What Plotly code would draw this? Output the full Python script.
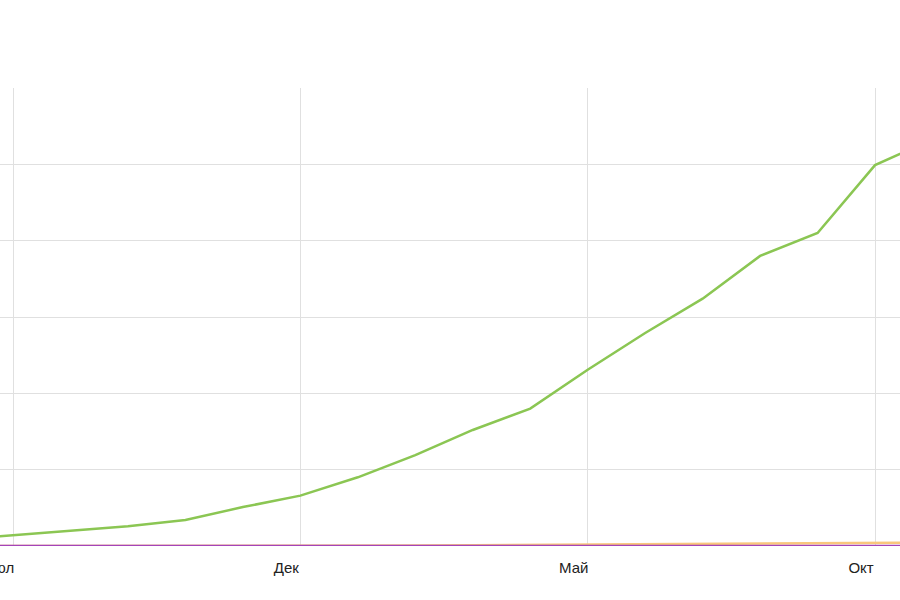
import plotly.graph_objects as go

months = ["Июн", "Июл", "Авг", "Сен", "Окт", "Ноя", "Дек", "Янв", "Фев", "Мар", "Апр", "Май",
          "Июн", "Июл", "Авг", "Сен", "Окт", "Ноя"]
month_idx = list(range(-1, 17))  # 0 = first "Июл"
green = [8, 14, 20, 26, 34, 51, 66, 90, 119, 152, 180, 231, 279, 324, 380, 410, 499, 533]
orange = [0, 0, 0, 0, 0, 0, 0, 0, 0.5, 1.0, 1.5, 2.0, 2.6, 3.0, 3.4, 3.8, 4.2, 4.5]
purple = [0] * 18

tick_vals = [0, 5, 10, 15]
tick_text = ["Июл", "Дек", "Май", "Окт"]

fig = go.Figure()
fig.add_trace(go.Scatter(x=month_idx, y=orange, mode="lines", line=dict(color="#f9c77c", width=2.5),
                         hoverinfo="skip", showlegend=False))
fig.add_trace(go.Scatter(x=month_idx, y=purple, mode="lines", line=dict(color="#a444b9", width=2.5),
                         hoverinfo="skip", showlegend=False, cliponaxis=False))
fig.add_trace(go.Scatter(x=month_idx, y=green, mode="lines", line=dict(color="#8bc653", width=2.5),
                         hoverinfo="skip", showlegend=False))

fig.update_layout(
    width=900, height=600,
    margin=dict(l=0, r=0, t=88, b=54, pad=0, autoexpand=False),
    paper_bgcolor="white", plot_bgcolor="white",
    font=dict(family="Liberation Sans, Arial, sans-serif", size=15, color="#222"),
    xaxis=dict(range=[-13 / 57.47, 887 / 57.47], tickvals=tick_vals, ticktext=tick_text,
               showgrid=True, gridcolor="#e0e0e0", gridwidth=1, zeroline=False,
               showline=False, ticks="", ticklabelshift=-14, ticklabelstandoff=11,
               ticklabeloverflow="allow", automargin=False),
    yaxis=dict(range=[0, 600], dtick=100, showgrid=True, gridcolor="#e0e0e0", gridwidth=1,
               zeroline=False, showticklabels=False, showline=False, automargin=False),
)
fig.write_html("out.html", config={"displayModeBar": False},
               post_script="document.body.style.margin='0';document.body.style.padding='0';")
